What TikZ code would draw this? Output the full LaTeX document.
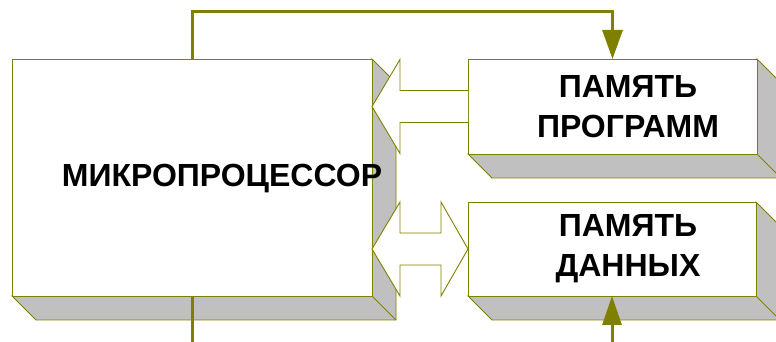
\documentclass[tikz,border=0pt]{standalone}
\usepackage{fontspec}
\setmainfont{Liberation Sans}
\usetikzlibrary{calc}
\usetikzlibrary{arrows.meta}
\definecolor{wire}{HTML}{808000}
\definecolor{side}{HTML}{C0C0C0}
\tikzset{
  blok/.style={draw=wire, fill=white, line width=0.9pt, inner sep=0pt, outer sep=0pt},
  bokom/.style={fill=side, draw=wire, line width=0.9pt},
  strelka/.style={draw=wire, fill=white, line width=0.9pt},
  shina/.style={wire, line width=3pt},
  nadpis/.style={font=\bfseries\fontsize{32}{40}\selectfont, align=center, inner sep=0pt}
}
% gray bottom and right faces behind a block
\newcommand{\bokovina}[1]{%
  \filldraw[bokom] (#1.south west) -- ++(24,-24) -- ($(#1.south east)+(24,-24)$)
    -- ($(#1.north east)+(24,-24)$) -- (#1.north east) -- (#1.south east) -- cycle;
  \draw[bokom] (#1.south east) -- ++(24,-24);
}

\begin{document}
\begin{tikzpicture}[x=1pt, y=1pt]
\useasboundingbox (0,0) rectangle (776,342);
% blocks
\node[blok, minimum width=360, minimum height=237] (mp) at (192,164.5) {};
\node[blok, minimum width=289, minimum height=95] (pp) at (612.5,235.5) {};
\node[blok, minimum width=288, minimum height=94] (dp) at (612,93) {};
\bokovina{mp}
\bokovina{pp}
\bokovina{dp}
\node[blok, minimum width=360, minimum height=237] at (mp) {};
\node[blok, minimum width=289, minimum height=95] at (pp) {};
\node[blok, minimum width=288, minimum height=94] at (dp) {};
% hollow arrows between the blocks
\filldraw[strelka] ($(pp.west)+(0,16)$) -- ++(-68,0) -- ++(0,31) -- (mp.east |- pp.west)
  -- ++(28,-47) -- ++(0,31) -- ($(pp.west)+(0,-16)$);
\filldraw[strelka] (mp.east |- dp.west) -- ++(28,47) -- ++(0,-31) -- ++(41,0) -- ++(0,31)
  -- (dp.west) -- ++(-27,-47) -- ++(0,31) -- ++(-41,0) -- ++(0,-31) -- cycle;
% buses
\coordinate (niz1) at (mp.south |- 0,0);
\coordinate (niz2) at (dp.south |- 0,0);
\draw[shina, -{Triangle[length=29pt,width=20pt]}] (mp.north) -- ++(0,47) -| (pp.north);
\draw[shina] (mp.south) -- (niz1);
\draw[shina, -{Triangle[length=29pt,width=19pt]}] (niz2) -- (dp.south);
% labels
\node[nadpis, anchor=base] (mptxt) at (222,155) {МИКРОПРОЦЕССОР};
\node[nadpis] (pptxt) at (628,235) {ПАМЯТЬ\\ПРОГРАММ};
\node[nadpis] (dptxt) at (628,93) {ПАМЯТЬ\\ДАННЫХ};
\end{tikzpicture}
\end{document}
